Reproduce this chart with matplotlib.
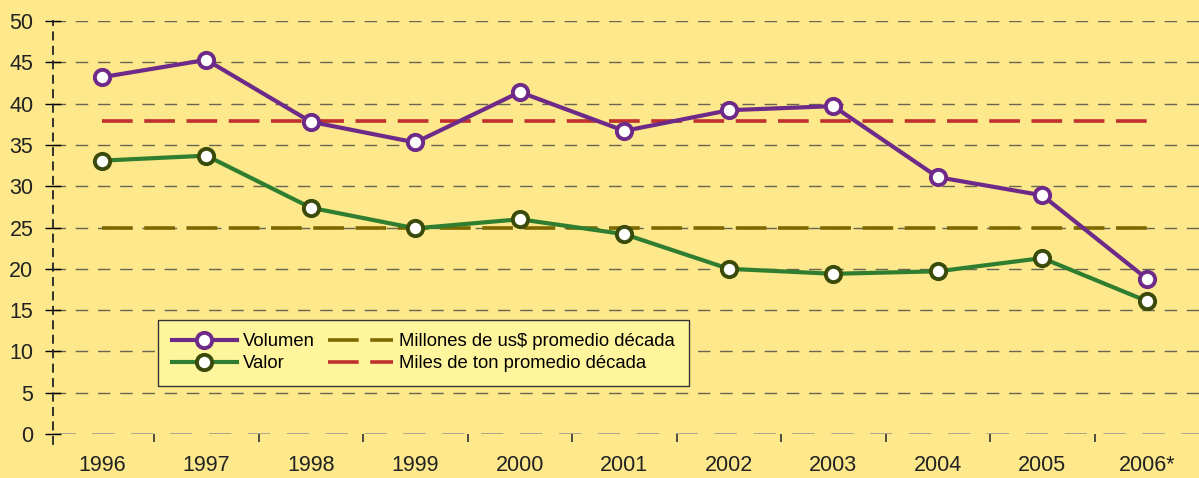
import matplotlib
matplotlib.use("Agg")
import matplotlib.pyplot as plt
from matplotlib.ticker import FixedLocator

plt.rcParams['font.family'] = ['Liberation Sans', 'DejaVu Sans']

# DATOS
anios    = ['1996', '1997', '1998', '1999', '2000', '2001', '2002', '2003', '2004', '2005', '2006*']
volumen  = [43.2, 45.3, 37.8, 35.3, 41.4, 36.7, 39.2, 39.7, 31.1, 28.9, 18.8]
valor    = [33.1, 33.7, 27.4, 24.9, 26.0, 24.2, 20.0, 19.4, 19.7, 21.3, 16.1]
prom_ton = 37.9
prom_usd = 24.9

BG = '#fde88c'

fig = plt.figure(figsize=(11.99, 4.78), dpi=100, facecolor=BG)
ax = fig.add_axes([0.044, 0.092, 0.956, 0.864], facecolor=BG)

x = list(range(len(anios)))

ax.plot([x[0], x[-1]], [prom_usd, prom_usd], color='#7d6800', lw=2.6,
        dashes=(8.5, 3.2), label='Millones de us$ promedio década', zorder=2)
ax.plot([x[0], x[-1]], [prom_ton, prom_ton], color='#c0302c', lw=2.6,
        dashes=(8.5, 3.2), label='Miles de ton promedio década', zorder=2)

ax.plot(x, volumen, color='#6e2a88', lw=3, marker='o', ms=11, mfc='white',
        mec='#6e2a88', mew=2.8, label='Volumen', zorder=4)
ax.plot(x, valor, color='#2f7d2f', lw=3, marker='o', ms=11, mfc='white',
        mec='#3a4a08', mew=2.8, label='Valor', zorder=4)

# grilla horizontal
for v in range(5, 55, 5):
    ax.axhline(v, color='#6a6552', lw=1, dashes=(9, 7), zorder=1)
ax.axhline(0, color='#a59f88', lw=2, dashes=(8, 6), zorder=1)

ax.set_xlim(-0.47, 10.5)
ax.set_ylim(0, 50)
ax.set_yticks(range(0, 55, 5))
ax.set_xticks(x)
ax.set_xticklabels(anios)
ax.xaxis.set_minor_locator(FixedLocator([i + 0.5 for i in range(10)]))
ax.tick_params(axis='x', which='major', length=0, pad=15, labelsize=15.5, labelcolor='#222')
ax.tick_params(axis='x', which='minor', length=6, width=1.2, color='#333', direction='out', pad=3)
ax.tick_params(axis='y', length=12, width=1, direction='inout', labelsize=15.5,
               labelcolor='#222', pad=8)

for s in ['top', 'right', 'bottom']:
    ax.spines[s].set_visible(False)
ax.spines['left'].set_linestyle((0, (4, 4)))
ax.spines['left'].set_linewidth(1.3)
ax.spines['left'].set_color('#222')
ax.spines['left'].set_bounds(-1.2, 50)
ax.spines['left'].set_clip_on(False)

h, l = ax.get_legend_handles_labels()
order = [2, 3, 0, 1]
leg = ax.legend([h[i] for i in order], [l[i] for i in order], ncol=2,
                loc='upper left', bbox_to_anchor=(0.092, 0.277), borderaxespad=0,
                fontsize=13.3, frameon=True, fancybox=False, facecolor='#fff59c',
                edgecolor='#333', framealpha=1, borderpad=0.75, labelspacing=0.25,
                handlelength=3.5, handletextpad=0.35, columnspacing=0.7)
leg.get_frame().set_linewidth(1)

fig.savefig('out.png', dpi=100, facecolor=BG)
